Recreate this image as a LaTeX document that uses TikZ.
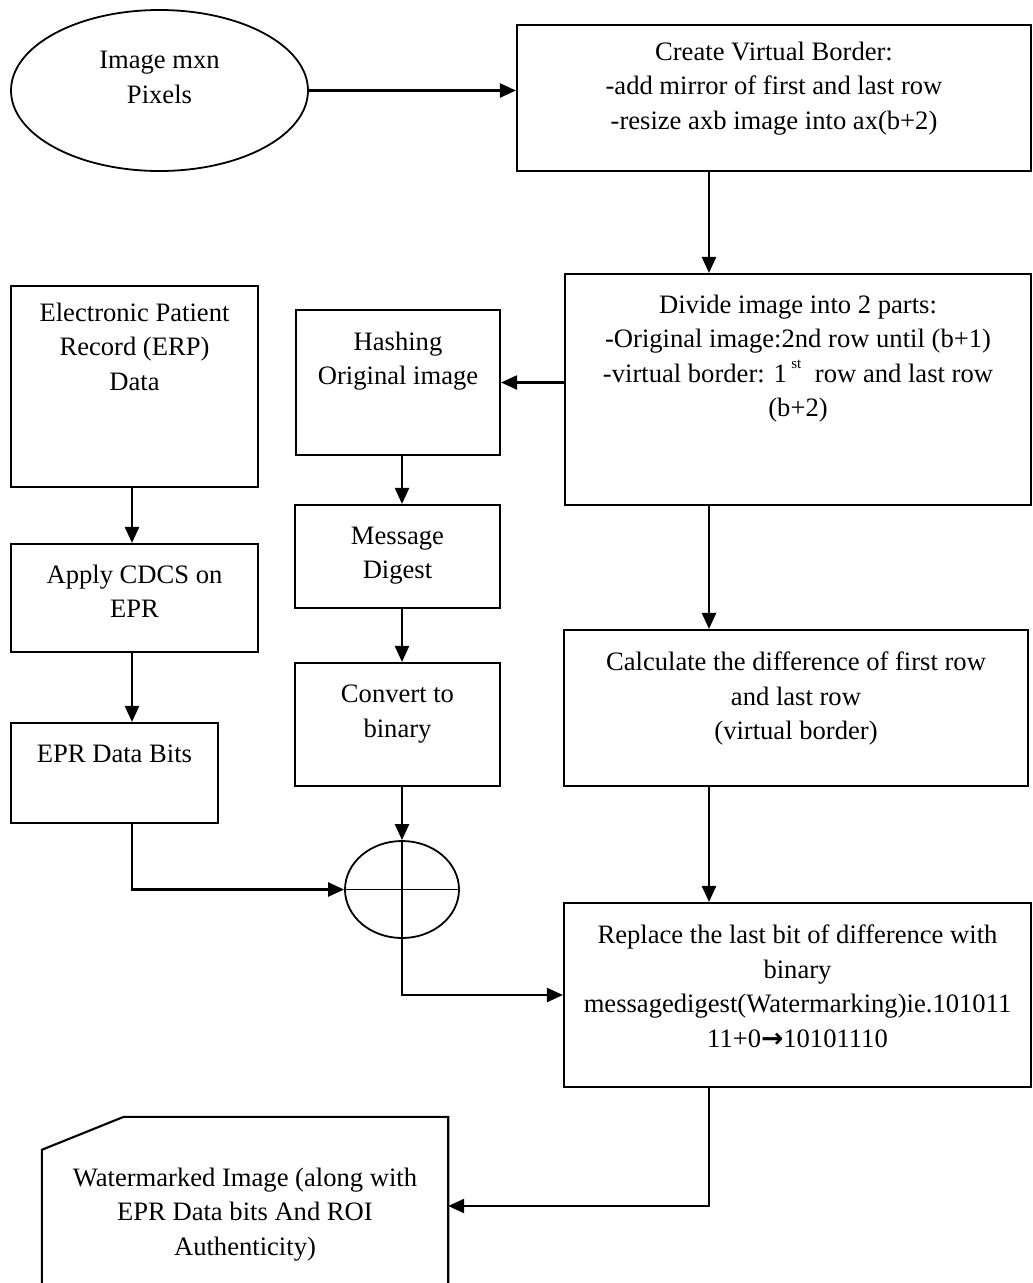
\documentclass[tikz,border=0pt]{standalone}
\usepackage{fontspec}
\setmainfont{Liberation Serif}
\newfontfamily\symfont{DejaVu Sans}
\usetikzlibrary{arrows.meta,shapes.geometric,calc}
% text block pinned to the top of its box: [gap]{width}{height}{text}
\newcommand{\blk}[4][22]{\parbox[c][#3pt][t]{#2pt}{\centering\vspace*{#1pt}#4}}

\begin{document}
\begin{tikzpicture}[x=1pt, y=-1pt, ->, >={Triangle[length=16pt,width=14pt]}, line width=2.4pt,
  font=\fontsize{26.6}{34.5}\selectfont,
  box/.style={draw, rectangle, inner sep=0pt, line width=2.1pt}]
  \useasboundingbox (0,0) rectangle (1033,1283);
  \clip (0,0) rectangle (1033,1283);

  \node[draw, ellipse, inner sep=0pt, minimum width=297pt, minimum height=161pt, line width=1.8pt] (img) at (159.5,90.5) {\blk[1]{150}{80}{Image mxn\\Pixels}};
  \node[box] (border) at (774,98) {\blk[17]{514}{146}{Create Virtual Border:\\-add mirror of first and last row\\-resize axb image into ax(b+2)}};
  \node[box] (divide) at (798,389.5) {\blk[21]{466}{231}{Divide image into 2 parts:\\-Original image:2nd row until (b+1)\\-virtual border: 1\,\raisebox{14pt}{\fontsize{15}{15}\selectfont st}\hspace{7pt} row and last row\\(b+2)}};
  \node[box] (hash) at (398,382.5) {\blk{204}{145}{Hashing\\Original image}};
  \node[box] (epr) at (134.5,386.5) {\blk[17]{247}{201}{Electronic Patient\\Record (ERP)\\Data}};
  \node[box] (apply) at (134.5,598) {\blk[21]{247}{108}{Apply CDCS on\\EPR}};
  \node[box] (msg) at (397.5,556.5) {\blk{205}{103}{Message\\Digest}};
  \node[box] (conv) at (397.5,724.5) {\blk{205}{123}{Convert to\\binary}};
  \node[box] (calc) at (796,708) {\blk{464}{156}{Calculate the difference of first row\\and last row\\(virtual border)}};
  \node[box] (bits) at (114.5,773) {\blk{207}{100}{EPR Data Bits}};
  \node[draw, ellipse, inner sep=0pt, minimum width=114pt, minimum height=97pt, line width=1.8pt] (xor) at (402,889.5) {};
  \node[box] (replace) at (797.5,995) {\blk{467}{184}{Replace the last bit of difference with\\binary\\messagedigest(Watermarking)ie.101011\\11+0{\symfont\bfseries →}10101110}};
  \node[inner sep=0pt] (card) at (245,1206) {\blk[50]{404}{176}{Watermarked Image (along with\\EPR Data bits And ROI\\Authenticity)}};

  \coordinate (spine) at (709,0);
  \coordinate (lspine) at (132,0);

  \draw (img.east) -- (img.east -| border.west);
  \draw (spine |- border.south) -- (spine |- divide.north);
  \draw (hash.east -| divide.west) -- (hash.east);
  \draw (spine |- divide.south) -- (spine |- calc.north);
  \draw (spine |- calc.south) -- (spine |- replace.north);
  \draw (spine |- replace.south) |- (card.east);

  \draw (xor.north |- hash.south) -- (xor.north |- msg.north);
  \draw (xor.north |- msg.south) -- (xor.north |- conv.north);
  \draw (xor.north |- conv.south) -- (xor.north);
  \draw (xor.south) |- (replace.west);

  \draw (lspine |- epr.south) -- (lspine |- apply.north);
  \draw (lspine |- apply.south) -- (lspine |- bits.north);
  \draw (lspine |- bits.south) |- (xor.west);

  \draw[-, line width=1.8pt] (xor.west) -- (xor.east) (xor.north) -- (xor.south);
  \draw[-, line width=2.1pt] (card.north east) -- ($(card.north west)+(82,0)$) -- ($(card.north west)+(0,33)$) -- (card.south west) -- (card.south east) -- cycle;
\end{tikzpicture}
\end{document}
